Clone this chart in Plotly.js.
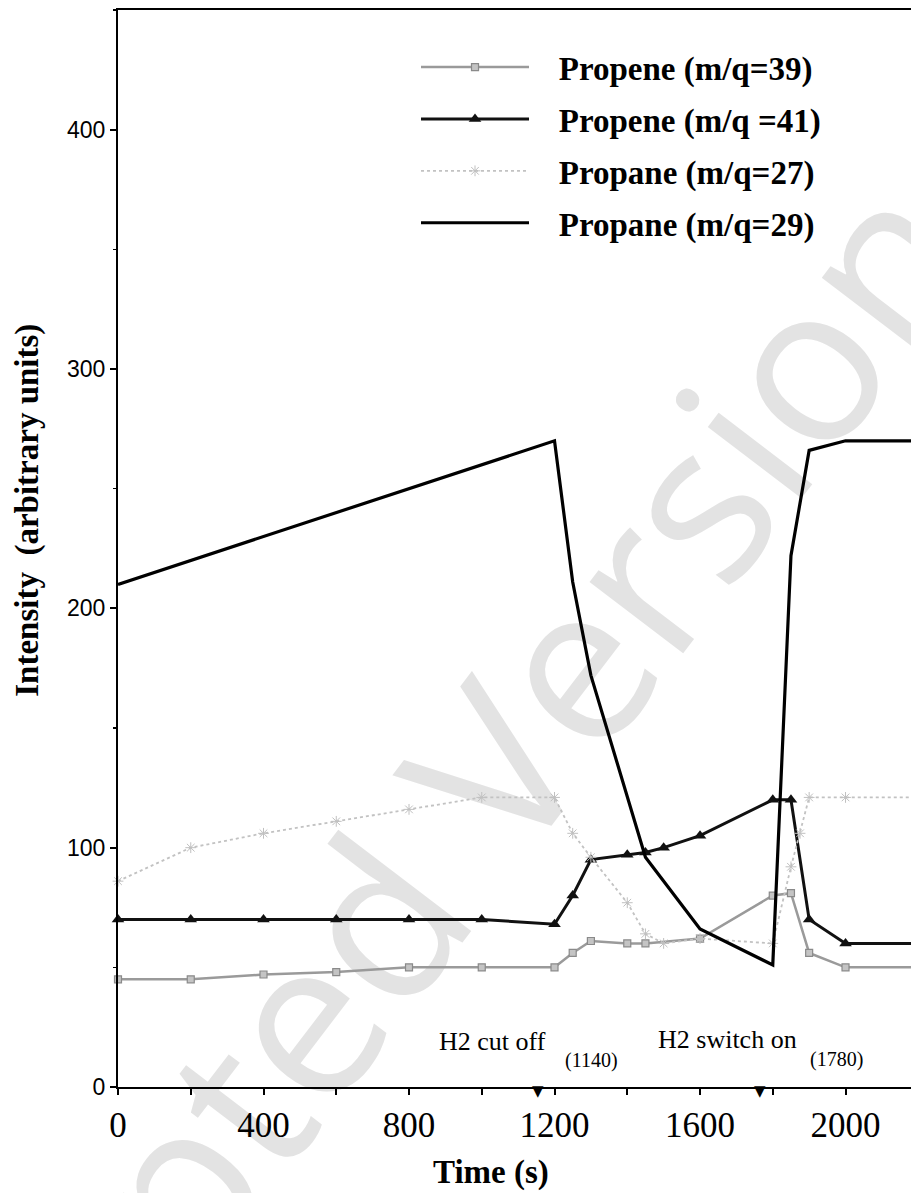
<!DOCTYPE html>
<html><head><meta charset="utf-8">
<script src="https://cdn.plot.ly/plotly-3.0.1.min.js"></script>
<style>html,body{margin:0;padding:0;background:#fff}#chart{width:911px;height:1193px}</style>
</head><body><div id="chart"></div>
<script>
// Propene m/q=39
const tP39 = [0,200,400,600,800,1000,1200,1250,1300,1400,1450,1600,1800,1850,1900,2000,2200];
const yP39 = [45,45,47,48,50,50,50,56,61,60,60,62,80,81,56,50,50];
// Propene m/q=41
const tP41 = [0,200,400,600,800,1000,1200,1250,1300,1400,1450,1500,1600,1800,1850,1900,2000,2200];
const yP41 = [70,70,70,70,70,70,68,80,95,97,98,100,105,120,120,70,60,60];
// Propane m/q=27
const tA27 = [0,200,400,600,800,1000,1200,1250,1300,1400,1450,1500,1600,1800,1850,1875,1900,2000,2200];
const yA27 = [86,100,106,111,116,121,121,106,96,77,64,60,62,60,92,106,121,121,121];
// Propane m/q=29
const tA29 = [0,200,400,600,800,1000,1200,1250,1300,1450,1600,1800,1850,1900,2000,2200];
const yA29 = [210,220,230,240,250,260,270,211,172,96,66,51,222,266,270,270];

const names = ['Propene (m/q=39)','Propene (m/q =41)','Propane (m/q=27)','Propane (m/q=29)'];
const eventTimes = [1155, 1765];
const eventLabels = ['H2 cut off','H2 switch on'];
const eventValues = ['(1140)','(1780)'];

const serif = 'Liberation Serif, Times New Roman, serif';
const pad = '\u00a0\u00a0\u00a0';
const traces = [
  {x:tP39, y:yP39, name:pad+names[0], mode:'lines+markers', legendgroup:'a',
   line:{color:'#9a9a9a', width:2.5}, marker:{symbol:'square', size:7, color:'#c4c4c4', line:{color:'#8a8a8a', width:1.2}}, cliponaxis:false},
  {x:tP41, y:yP41, name:pad+names[1], mode:'lines+markers', legendgroup:'b',
   line:{color:'#111', width:3}, marker:{symbol:'triangle-up', size:11, color:'#111'}, cliponaxis:false},
  {x:tA27, y:yA27, name:pad+names[2], mode:'lines+markers', legendgroup:'c',
   line:{color:'#c2c2c2', width:1.8, dash:'dot'}, marker:{symbol:'asterisk-open', size:9, color:'#c0c0c0', line:{color:'#bdbdbd', width:1}}, cliponaxis:false},
  {x:tA29, y:yA29, name:pad+names[3], mode:'lines', legendgroup:'d',
   line:{color:'#000', width:3.2}}
];

const annotations = [];
const labelY = [19, 20];
const labelX = [1030, 1675];
const valueX = [1303, 1974];
const valueY = [11, 11.7];
for (let i=0;i<eventTimes.length;i++){
  annotations.push({x:labelX[i], y:labelY[i], xref:'x', yref:'y', text:eventLabels[i], showarrow:false,
    font:{family:serif, size:26, color:'#000'}});
  annotations.push({x:valueX[i], y:valueY[i], xref:'x', yref:'y', text:eventValues[i], showarrow:false,
    font:{family:serif, size:20, color:'#000'}});
  annotations.push({x:eventTimes[i], y:0, xref:'x', yref:'y', yshift:-4, text:'\u25BC', showarrow:false,
    font:{family:'DejaVu Sans, sans-serif', size:15, color:'#000'}});
}
annotations.push({xref:'paper', yref:'paper', x:-0.1135, y:0.536, xanchor:'center', yanchor:'middle', textangle:-90, showarrow:false,
  text:'<b>Intensity  (arbitrary units)</b>', font:{family:serif, size:33, color:'#000'}});
annotations.push({xref:'paper', yref:'paper', x:0.47, y:-0.079, xanchor:'center', yanchor:'middle', showarrow:false,
  text:'<b>Time (s)</b>', font:{family:serif, size:33, color:'#000'}});

const layout = {
  width:911, height:1193,
  margin:{l:118, r:0, t:10, b:106},
  paper_bgcolor:'#fff', plot_bgcolor:'#fff',
  showlegend:true,
  legend:{x:0.3758, y:0.973, xanchor:'left', yanchor:'top', bgcolor:'rgba(0,0,0,0)',
    font:{family:serif, size:33, color:'#000', weight:'bold'}, itemwidth:108, tracegroupgap:6, traceorder:'grouped'},
  xaxis:{range:[0,2180], showline:true, linecolor:'#000', linewidth:2, mirror:true, showgrid:false, zeroline:false,
    ticks:'outside', ticklen:6, tickwidth:2, tickcolor:'#000', dtick:400, tick0:0,
    minor:{dtick:200, ticks:'outside', ticklen:6, tickwidth:2, tickcolor:'#000'},
    tickfont:{family:serif, size:35, color:'#000'}},
  yaxis:{range:[0,450], showline:true, linecolor:'#000', linewidth:2, showgrid:false, zeroline:false,
    ticks:'outside', ticklen:6, tickwidth:2, tickcolor:'#000', dtick:100, tick0:0,
    minor:{dtick:50, ticks:'outside', ticklen:3, tickwidth:1.5, tickcolor:'#000'},
    tickfont:{family:'Liberation Sans, Arial, sans-serif', size:23, color:'#000'}},
  annotations:annotations,
  shapes:[{type:'line', xref:'paper', yref:'paper', x0:-0.19, y0:-0.36, x1:0.88, y1:0.672, layer:'below',
    line:{color:'rgba(0,0,0,0)', width:0},
    label:{text:'Accepted Version', textangle:'auto', textposition:'middle', yanchor:'middle', xanchor:'center',
      font:{family:'Open Sans, sans-serif', size:220, weight:400, color:'#e3e3e3'}}}]
};
Plotly.newPlot('chart', traces, layout, {displayModeBar:false, staticPlot:true});
</script></body></html>
